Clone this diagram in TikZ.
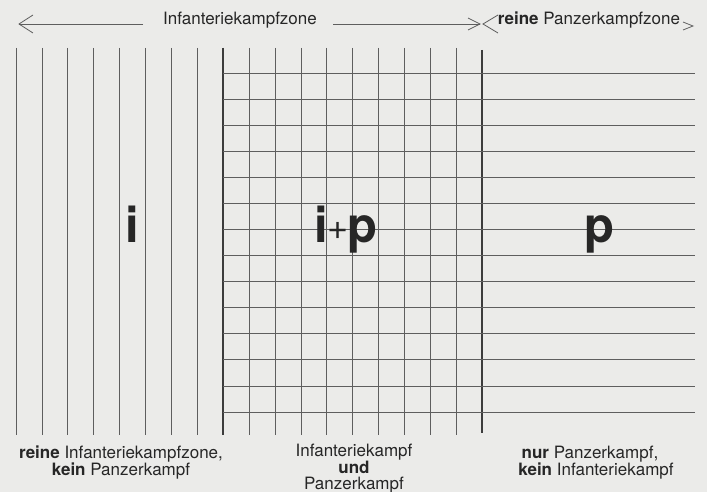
\documentclass[tikz,border=0pt]{standalone}
\usepackage{fontspec}
\setmainfont{TeX Gyre Heros}
\definecolor{paper}{HTML}{EBEBE9}
\definecolor{ink}{HTML}{262626}
\definecolor{rule}{HTML}{5E5E5E}
\begin{document}
\begin{tikzpicture}[x=1pt,y=-1pt,
  thinrule/.style={draw=rule,line width=0.8pt},
  thickrule/.style={draw=ink!90,line width=1.5pt},
  headline/.style={draw=rule,line width=0.8pt,line join=miter},
  lbl/.style={text=ink,font=\fontsize{17}{18}\selectfont,inner sep=0pt,anchor=base,align=center},
  big/.style={text=ink,font=\fontsize{49}{50}\selectfont\bfseries,inner sep=0pt,anchor=base}]
\fill[paper] (0,0) rectangle (707,492);
\useasboundingbox (0,0) rectangle (707,492);
% vertical lines
\foreach \i in {0,...,17}{
  \draw[thinrule] ({16+\i*25.9},48) -- ({16+\i*25.9},435);
}
\draw[thickrule] (223.2,48) -- (223.2,435);
\draw[thickrule] (482.2,50) -- (482.2,433);
% horizontal lines
\foreach \j in {0,...,13}{
  \draw[thinrule] (223,{73+\j*26.08}) -- (695,{73+\j*26.08});
}
% top labels
\node[lbl] (tinf) at (240,25) {Infanteriekampfzone};
\node[lbl] (tpz) at (589,25) {\textbf{reine} Panzerkampfzone};
\coordinate (a1tip) at (19,24);
\coordinate (a1end) at (143,24);
\coordinate (a2tip) at (480,24);
\coordinate (a2end) at (333,24);
\draw[headline] (a1end) -- (a1tip);
\draw[headline] (33,15) -- (a1tip) -- (33,33);
\draw[headline] (a2end) -- (a2tip);
\draw[headline] (468,18) -- (a2tip) -- (468,30);
\coordinate (a3tip) at (483,24);
\draw[headline] (498,15) -- (a3tip) -- (498,33);
\coordinate (a4tip) at (693,26);
\draw[headline] (683,22) -- (a4tip) -- (683,30);
% big letters
\node[big] (zi) at (132,242) {i};
\node[big] (zip) at (346,242) {i\kern-1pt{\fontsize{36}{36}\selectfont\mdseries\raisebox{2.5pt}{+}}\kern-1pt p};
\node[big] (zp) at (599,242) {p};
% bottom labels
\node[lbl] (b1a) at (121,458) {\textbf{reine} Infanteriekampfzone,};
\node[lbl] (b1b) at (121,475) {\textbf{kein} Panzerkampf};
\node[lbl] (b2a) at (354,456) {Infanteriekampf};
\node[lbl] (b2b) at (354,473) {\textbf{und}};
\node[lbl] (b2c) at (354,489) {Panzerkampf};
\node[lbl] (b3a) at (590,458) {\textbf{nur} Panzerkampf,};
\node[lbl] (b3b) at (596,475) {\textbf{kein} Infanteriekampf};
\end{tikzpicture}
\end{document}
